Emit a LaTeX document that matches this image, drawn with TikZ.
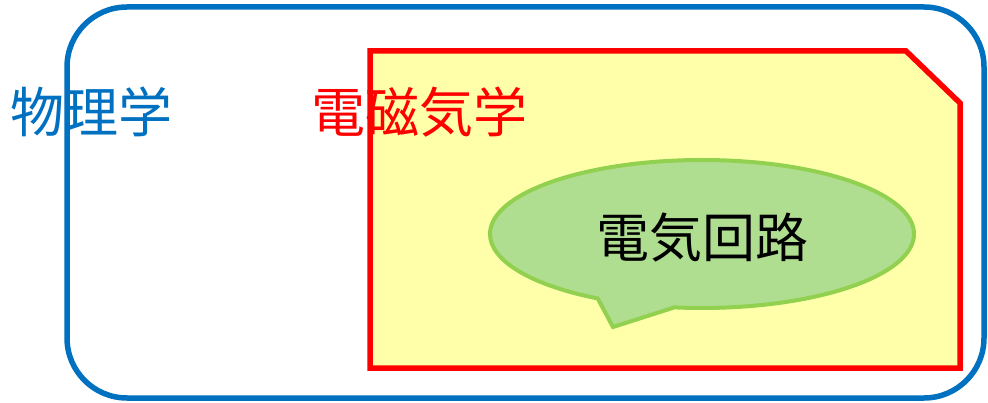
\documentclass[tikz,border=0pt]{standalone}
\usepackage{fontspec}
\newfontfamily\jp{Noto Sans CJK JP}
\usetikzlibrary{shapes.callouts}
\definecolor{myblue}{HTML}{0070C0}
\definecolor{myred}{HTML}{FF0000}
\definecolor{mygreen}{HTML}{92D050}
\definecolor{yfill}{RGB}{255,255,170}
\definecolor{gfill}{RGB}{175,222,145}
\tikzset{
  lbl/.style={font=\jp\fontsize{54}{54}\selectfont, inner sep=0pt},
}
\begin{document}
\begin{tikzpicture}[x=1pt,y=-1pt]
\useasboundingbox (0,0) rectangle (988,403);
\draw[myblue, line width=5.5pt, rounded corners=60pt] (67,7) rectangle (984,398);
\draw[myred, line width=5.5pt, fill=yfill, line join=miter]
  (370,51) -- (906,51) -- (960,103) -- (960,368) -- (370,368) -- cycle;
\node[ellipse callout, draw=mygreen, line width=4pt, fill=gfill,
      minimum width=424pt, minimum height=148pt, inner sep=0pt,
      callout absolute pointer={(613,327)}, callout pointer arc=22]
  (ec) at (702,234) {};
\node[lbl, text=black, font=\jp\fontsize{53}{53}\selectfont] (circ) at (702,238) {電気回路};
\node[lbl, text=myblue] (phys) at (91,112) {物理学};
\node[lbl, text=myred] (em) at (419,112) {電磁気学};
\end{tikzpicture}
\end{document}
